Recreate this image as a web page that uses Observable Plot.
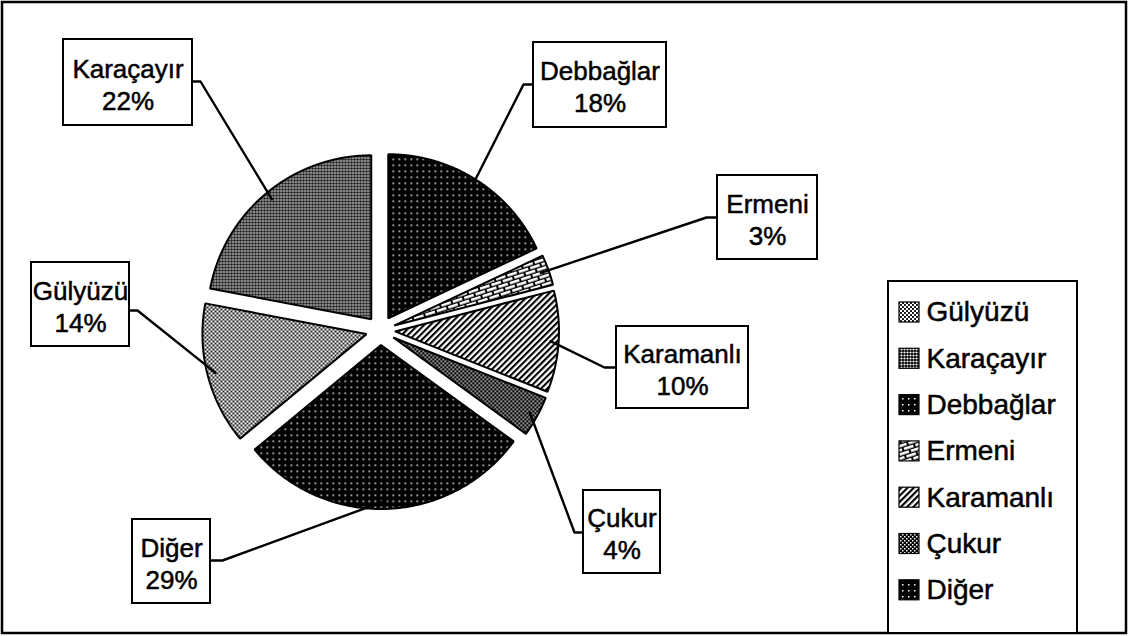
<!DOCTYPE html>
<html><head><meta charset="utf-8">
<script src="https://cdn.jsdelivr.net/npm/d3@7"></script>
<script src="https://cdn.jsdelivr.net/npm/@observablehq/plot@0.6"></script>
<style>body{margin:0;background:#fff} svg{display:block}</style>
</head><body><div id="chart"></div>
<script>
// ---- data ----
const categories = ["Debbağlar","Ermeni","Karamanlı","Çukur","Diğer","Gülyüzü","Karaçayır"];
const values = [18, 3, 10, 4, 29, 14, 22];
const legendOrder = ["Gülyüzü","Karaçayır","Debbağlar","Ermeni","Karamanlı","Çukur","Diğer"];
const patternOf = {"Debbağlar":"pDark","Ermeni":"pBrick","Karamanlı":"pDiag","Çukur":"pFine","Diğer":"pDark","Gülyüzü":"pLight","Karaçayır":"pMid"};

// ---- layout (pixels) ----
const W = 1128, H = 636;
const pie = {cx: 380, cy: 330, r: 164, e: 14.5};
const labelBoxes = {
  "Karaçayır": {x1: 63,  x2: 192, y1: 39,  y2: 125, ax: 192, ay: 81,  bx: 200, by: 81},
  "Debbağlar": {x1: 533, x2: 666, y1: 42,  y2: 127, ax: 533, ay: 84,  bx: 523, by: 84},
  "Ermeni":    {x1: 717, x2: 817, y1: 175, y2: 259, ax: 717, ay: 217, bx: 706, by: 217},
  "Karamanlı": {x1: 616, x2: 748, y1: 326, y2: 408, ax: 616, ay: 367, bx: 604, by: 367},
  "Çukur":     {x1: 583, x2: 660, y1: 490, y2: 573, ax: 583, ay: 532, bx: 574, by: 532},
  "Diğer":     {x1: 132, x2: 210, y1: 519, y2: 603, ax: 210, ay: 560, bx: 222, by: 560},
  "Gülyüzü":   {x1: 31,  x2: 129, y1: 262, y2: 346, ax: 129, ay: 310, bx: 137, by: 310}
};
const legendBox = {x1: 888, x2: 1077, y1: 281, y2: 633};

// ---- derived geometry ----
const total = d3.sum(values);
let cum = 0;
const slices = categories.map((name, i) => {
  const a0 = cum / total * 2 * Math.PI;
  cum += values[i];
  const a1 = cum / total * 2 * Math.PI;
  const am = (a0 + a1) / 2;
  const ox = pie.cx + pie.e * Math.sin(am), oy = pie.cy - pie.e * Math.cos(am);
  return {name, value: values[i], a0, a1, am, ox, oy};
});
const slicePts = [];
for (const s of slices) {
  slicePts.push({name: s.name, x: s.ox, y: s.oy});
  const n = Math.max(4, Math.ceil((s.a1 - s.a0) / (Math.PI / 360)));
  for (let k = 0; k <= n; k++) {
    const a = s.a0 + (s.a1 - s.a0) * k / n;
    slicePts.push({name: s.name, x: s.ox + pie.r * Math.sin(a), y: s.oy - pie.r * Math.cos(a)});
  }
}
const leaderPts = [];
for (const s of slices) {
  const b = labelBoxes[s.name], f = 0.95;
  leaderPts.push({name: s.name, x: s.ox + f * pie.r * Math.sin(s.am), y: s.oy - f * pie.r * Math.cos(s.am)});
  leaderPts.push({name: s.name, x: b.bx, y: b.by});
  leaderPts.push({name: s.name, x: b.ax, y: b.ay});
}
const boxes = slices.map(s => ({name: s.name, ...labelBoxes[s.name], label: `${s.name}\n${s.value}%`}));
const legendRows = legendOrder.map((name, i) => ({name, y: 312 + i * 46.3}));

const font = "'Liberation Sans', Arial, Helvetica, sans-serif";
const marks = [
  Plot.rect([{x1: 2, x2: 1126, y1: 2, y2: 633}], {x1: "x1", x2: "x2", y1: "y1", y2: "y2", fill: "white", stroke: "black", strokeWidth: 2.5}),
  ...categories.map(name => Plot.line(slicePts.filter(d => d.name === name), {x: "x", y: "y", curve: "linear-closed", fill: `url(#${patternOf[name]})`, stroke: "black", strokeWidth: 2, strokeLinejoin: "miter"})),
  Plot.line(leaderPts, {x: "x", y: "y", z: "name", stroke: "black", strokeWidth: 2.4, strokeLinejoin: "round"}),
  Plot.rect(boxes, {x1: "x1", x2: "x2", y1: "y1", y2: "y2", fill: "white", stroke: "black", strokeWidth: 2}),
  Plot.text(boxes, {x: d => (d.x1 + d.x2) / 2, y: d => (d.y1 + d.y2) / 2 + 1, text: "label", fontSize: 26, lineHeight: 1.22, fill: "black", stroke: "black", strokeWidth: 0.5, fontFamily: font}),
  Plot.rect([legendBox], {x1: "x1", x2: "x2", y1: "y1", y2: "y2", fill: "white", stroke: "black", strokeWidth: 2}),
  Plot.rect(legendRows, {x1: () => 899, x2: () => 919, y1: d => d.y - 10, y2: d => d.y + 10, fill: d => `url(#${patternOf[d.name]})`, stroke: "black", strokeWidth: 1.2}),
  Plot.text(legendRows, {x: () => 926, y: "y", text: "name", textAnchor: "start", fontSize: 28, fill: "black", stroke: "black", strokeWidth: 0.5, fontFamily: font})
];

const chart = Plot.plot({
  width: W, height: H, margin: 0,
  x: {domain: [0, W], range: [0, W], axis: null},
  y: {domain: [0, H], range: [0, H], axis: null},
  style: {background: "white", fontFamily: font},
  marks
});

d3.select(chart).insert("defs", ":first-child").html(`
  <pattern id="pDark" width="6" height="6" patternUnits="userSpaceOnUse">
    <rect width="6" height="6" fill="#000"/><rect x="2" y="2" width="1.5" height="1.5" fill="#fff"/>
  </pattern>
  <pattern id="pBrick" width="12" height="8" patternUnits="userSpaceOnUse" patternTransform="rotate(-18)">
    <rect width="12" height="8" fill="#000"/>
    <rect x="1" y="1" width="10" height="2.6" fill="#fff"/>
    <rect x="-5" y="5" width="10" height="2.6" fill="#fff"/>
    <rect x="7" y="5" width="10" height="2.6" fill="#fff"/>
  </pattern>
  <pattern id="pDiag" width="4.4" height="4.4" patternUnits="userSpaceOnUse" patternTransform="rotate(45)">
    <rect width="4.4" height="4.4" fill="#fff"/><rect width="2.1" height="4.4" fill="#000"/>
  </pattern>
  <pattern id="pFine" width="4" height="4" patternUnits="userSpaceOnUse">
    <rect width="4" height="4" fill="#000"/><rect x="0" y="0" width="1.5" height="1.5" fill="#fff"/><rect x="2" y="2" width="1.5" height="1.5" fill="#fff"/>
  </pattern>
  <pattern id="pLight" width="4" height="4" patternUnits="userSpaceOnUse">
    <rect width="4" height="4" fill="#fff"/><circle cx="1" cy="1" r="1.05" fill="#000"/><circle cx="3" cy="3" r="1.05" fill="#000"/>
  </pattern>
  <pattern id="pMid" width="6" height="6" patternUnits="userSpaceOnUse">
    <rect width="6" height="6" fill="#000"/>
    <circle cx="1.5" cy="1.5" r="1.1" fill="#fff"/><circle cx="4.5" cy="1.5" r="1.1" fill="#fff"/>
    <circle cx="1.5" cy="4.5" r="1.1" fill="#fff"/><circle cx="4.5" cy="4.5" r="1.1" fill="#fff"/>
  </pattern>
`);
document.getElementById("chart").appendChild(chart);
</script>
</body></html>
